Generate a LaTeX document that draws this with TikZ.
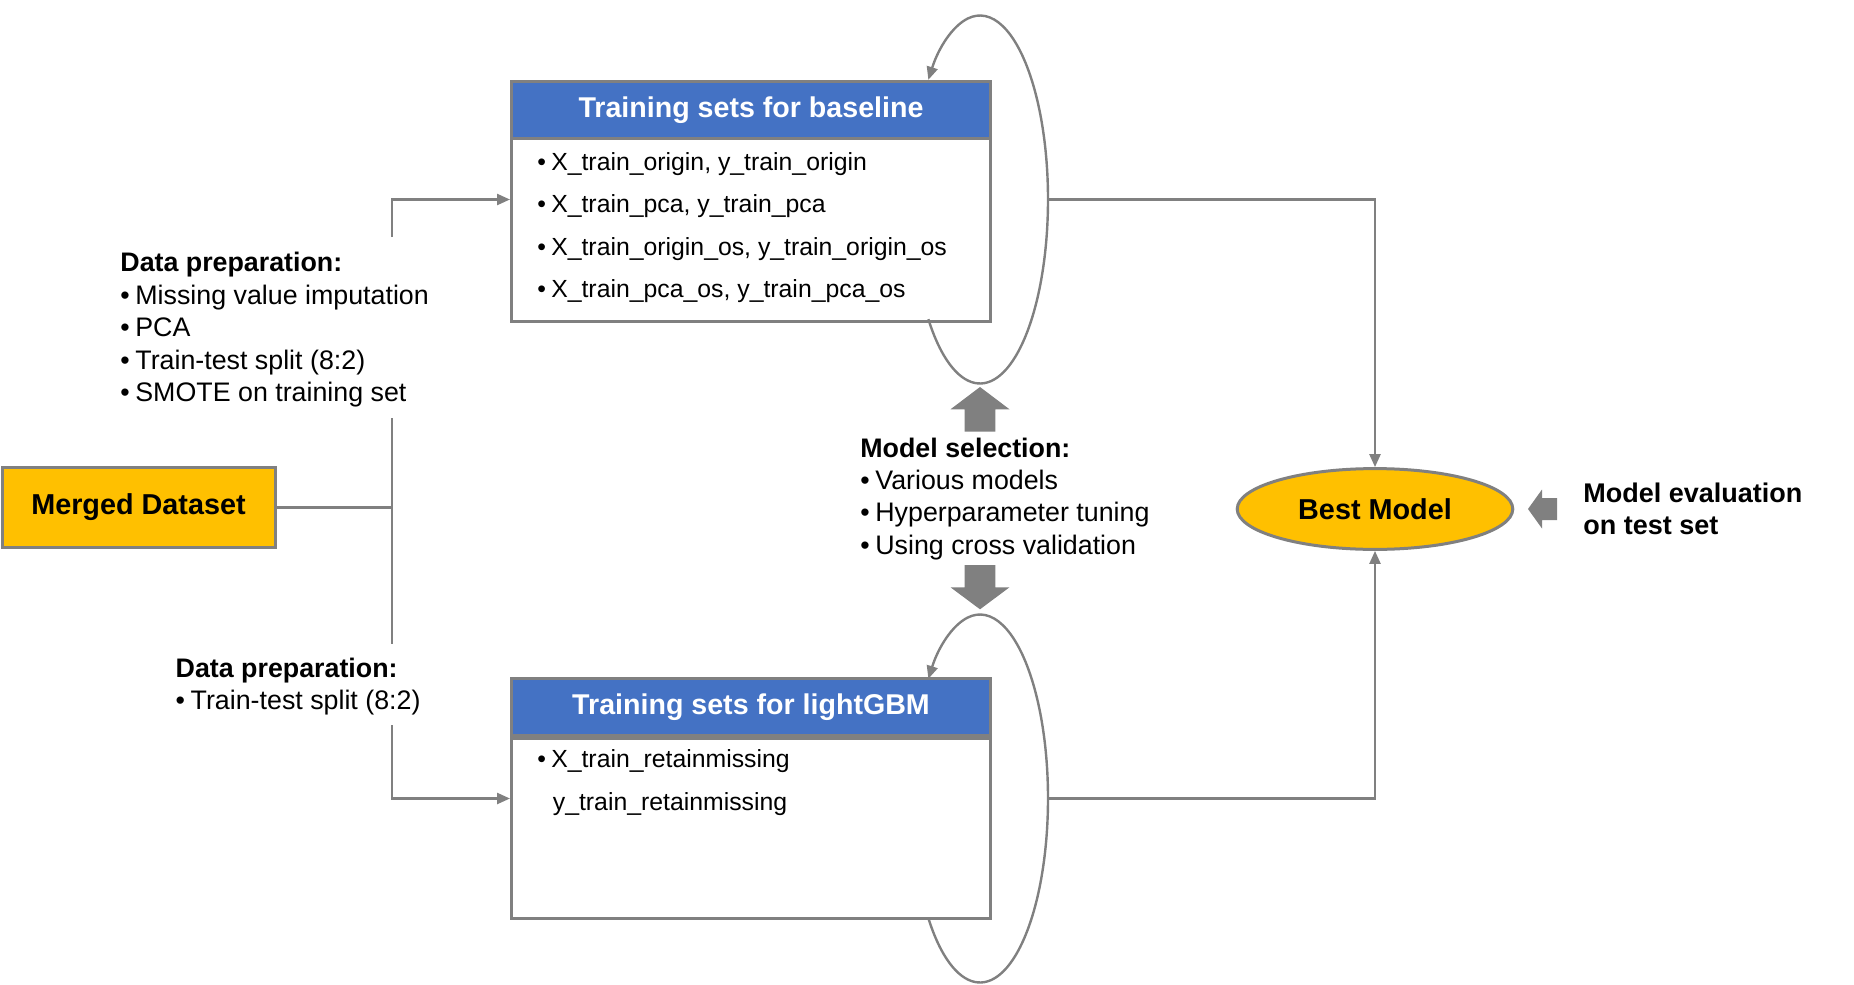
\documentclass[tikz,border=0pt]{standalone}
\usepackage{fontspec}
\setmainfont{Liberation Sans}
\usetikzlibrary{arrows.meta,calc,shapes.geometric}
\definecolor{lgray}{RGB}{128,128,128}
\definecolor{hblue}{RGB}{68,114,196}
\definecolor{gold}{RGB}{255,192,0}
\begin{document}
\begin{tikzpicture}[x=0.5pt,y=-0.5pt,
  conn/.style={draw=lgray, line width=1.2pt},
  tip/.style={-{Triangle[length=6.5pt,width=5.5pt]}},
  hdr/.style={draw=lgray, line width=1.5pt, fill=hblue, text=white,
    font=\fontsize{14.3}{17}\selectfont\bfseries, minimum width=239.5pt,
    minimum height=28.5pt, inner sep=0pt, anchor=north west},
  bodybox/.style={draw=lgray, line width=1.5pt, fill=white,
    minimum width=239.5pt, inner sep=0pt, anchor=north west},
  item/.style={anchor=base west, inner sep=0pt, font=\fontsize{12.4}{15}\selectfont},
  lbl/.style={anchor=base west, inner sep=0pt, font=\fontsize{13.4}{16}\selectfont},
  blbl/.style={lbl, font=\fontsize{13.4}{16}\selectfont\bfseries},
  gold box/.style={draw=lgray, line width=1.5pt, fill=gold,
    font=\fontsize{14.4}{17}\selectfont\bfseries, inner sep=0pt},
  blk/.style={fill=lgray, draw=none},
]
\useasboundingbox (0,0) rectangle (1854,985);

% ---------- baseline box ----------
\node[bodybox, minimum height=91.5pt] (bb) at (510,137) {};
\node[hdr] (bh) at (510,80) {Training sets for baseline};
\node[item] (b1) at (537,170.7) {•\hspace{2.6pt}X\_train\_origin, y\_train\_origin};
\node[item] (b2) at (537,212.9) {•\hspace{2.6pt}X\_train\_pca, y\_train\_pca};
\node[item] (b3) at (537,255.1) {•\hspace{2.6pt}X\_train\_origin\_os, y\_train\_origin\_os};
\node[item] (b4) at (537,297.4) {•\hspace{2.6pt}X\_train\_pca\_os, y\_train\_pca\_os};

% ---------- lightGBM box ----------
\node[bodybox, minimum height=89.8pt] (lb) at (510,737) {};
\node[hdr] (lh) at (510,677) {Training sets for lightGBM};
\node[item] (l1) at (537,767.7) {•\hspace{2.6pt}X\_train\_retainmissing};
\node[item] (l2) at (552.5,810) {y\_train\_retainmissing};

% ---------- merged dataset & best model ----------
\node[gold box, minimum width=136.5pt, minimum height=39.8pt] (md) at (138.5,507.5) {Merged Dataset};
\node[gold box, ellipse, minimum width=137.8pt, minimum height=40.4pt] (bm) at (1375,509) {Best Model};

% ---------- labels ----------
\node[blbl] (dp1) at (120,271.7) {Data preparation:};
\node[lbl] (dp2) at (120,304.1) {•\hspace{2.8pt}Missing value imputation};
\node[lbl] (dp3) at (120,336.6) {•\hspace{2.8pt}PCA};
\node[lbl] (dp4) at (120,369.0) {•\hspace{2.8pt}Train-test split (8:2)};
\node[lbl] (dp5) at (120,401.4) {•\hspace{2.8pt}SMOTE on training set};

\node[blbl] (dq1) at (175.3,677.3) {Data preparation:};
\node[lbl] (dq2) at (175.3,709.7) {•\hspace{2.8pt}Train-test split (8:2)};

\node[blbl] (ms1) at (860,457.3) {Model selection:};
\node[lbl] (ms2) at (860,489.6) {•\hspace{2.8pt}Various models};
\node[lbl] (ms3) at (860,521.9) {•\hspace{2.8pt}Hyperparameter tuning};
\node[lbl] (ms4) at (860,554.2) {•\hspace{2.8pt}Using cross validation};

\node[blbl, font=\fontsize{13.5}{16}\selectfont\bfseries] (me1) at (1583,502) {Model evaluation};
\node[blbl, font=\fontsize{13.5}{16}\selectfont\bfseries] (me2) at (1583,534.8) {on test set};

% ---------- loops ----------
\coordinate (c1) at (980,199.5);
\coordinate (c2) at (980,798.5);
\draw[conn,tip] ($(c1)+(220.57:34pt and 92pt)$)
  arc[start angle=220.57, end angle=499.43, x radius=34pt, y radius=92pt];
\draw[conn,tip] ($(c2)+(220.57:34pt and 92pt)$)
  arc[start angle=220.57, end angle=499.43, x radius=34pt, y radius=92pt];

% ---------- connectors ----------
\coordinate (jm) at (392,507.5);
\coordinate (jt) at (392,237);
\coordinate (jb) at (392,725);
\coordinate (vt) at (392,418);
\coordinate (vb) at (392,644);
\draw[conn] (md.east) -- (jm);
\draw[conn] (vt) -- (vb);
\draw[conn,tip] (jt) |- (c1 -| bb.west);
\draw[conn,tip] (jb) |- (c2 -| lb.west);

\coordinate (r1) at ($(c1)+(34pt,0)$);
\coordinate (r2) at ($(c2)+(34pt,0)$);
\draw[conn,tip] (r1) -| (bm.north);
\draw[conn,tip] (r2) -| (bm.south);

% ---------- block arrows ----------
\fill[blk] (980,387) -- (1009.5,409.3) -- (995.3,409.3) -- (995.3,431.7)
  -- (964.7,431.7) -- (964.7,409.3) -- (950.5,409.3) -- cycle;
\fill[blk] (980,609.3) -- (1009.5,587.3) -- (995.3,587.3) -- (995.3,565)
  -- (964.7,565) -- (964.7,587.3) -- (950.5,587.3) -- cycle;
\fill[blk] (1528,509) -- (1542,489.5) -- (1542,498) -- (1557,498)
  -- (1557,520) -- (1542,520) -- (1542,528.5) -- cycle;
\end{tikzpicture}
\end{document}
